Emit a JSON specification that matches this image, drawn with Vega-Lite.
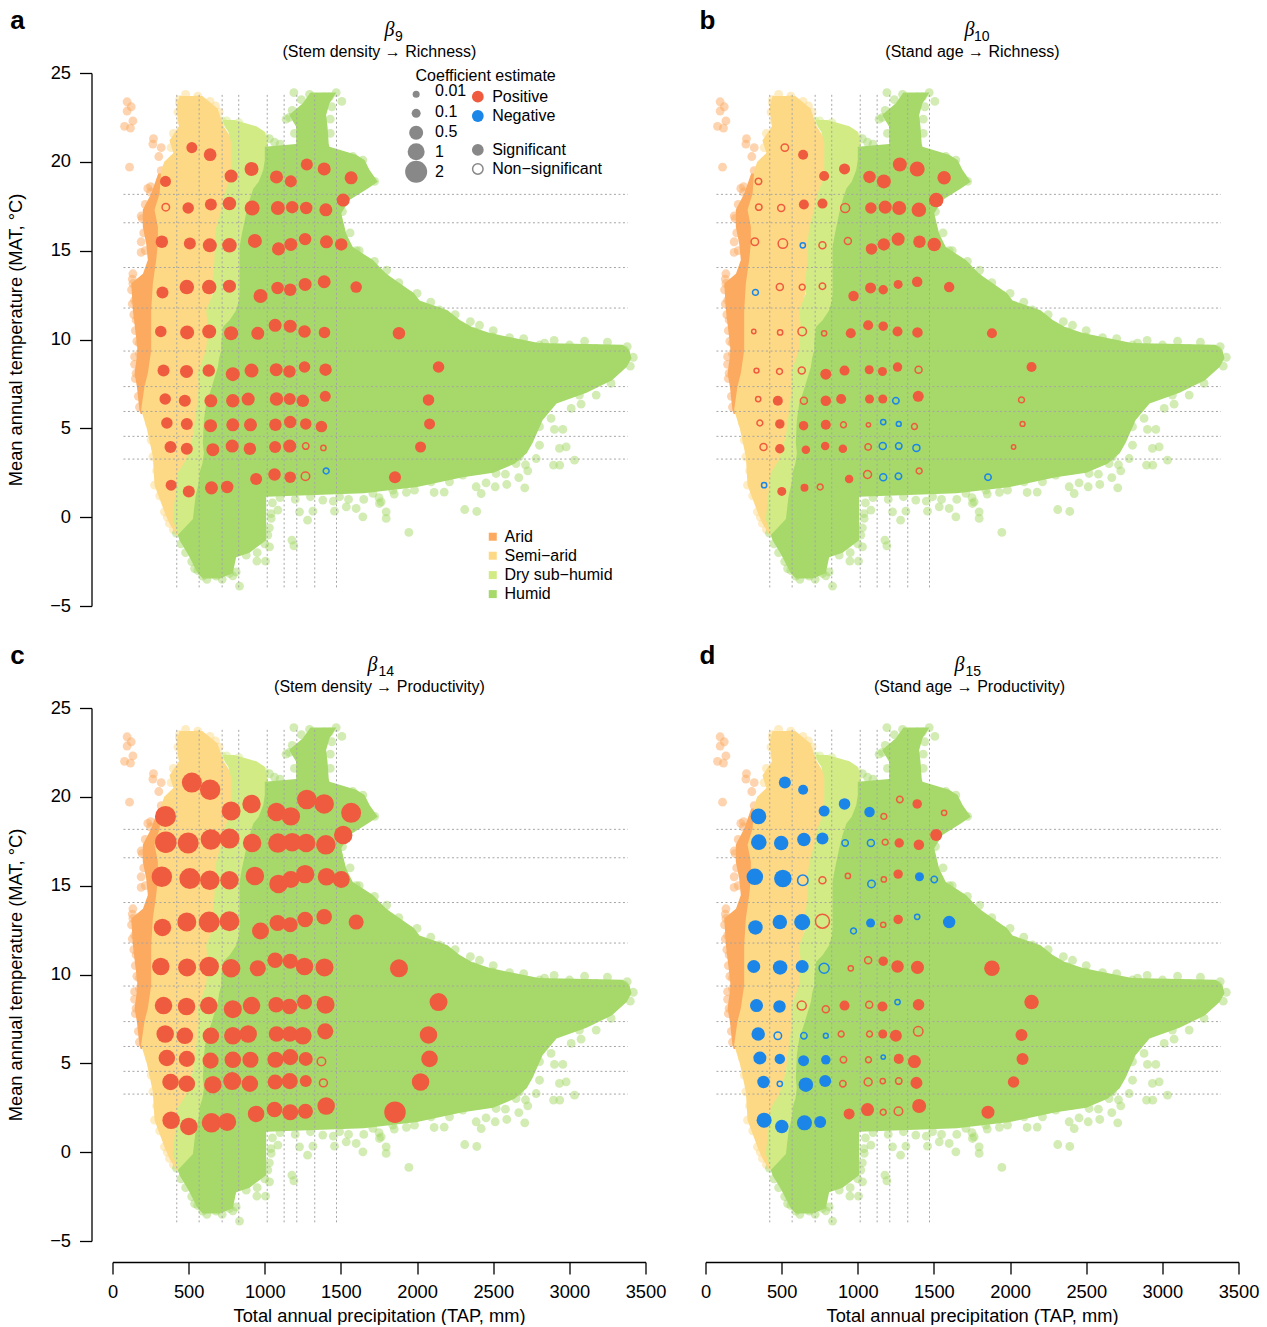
{"$schema":"https://vega.github.io/schema/vega-lite/v6.json","background":"white","padding":{"left":6.5,"top":8,"right":0,"bottom":0},"autosize":{"type":"pad"},
"config":{"view":{"stroke":null},"legend":{"disable":true},"font":"Liberation Sans","axis":{"grid":false,"domainColor":"#000","tickColor":"#000","domainWidth":1.3,"tickWidth":1.3,"tickSize":12,"offset":21,"labelFont":"Liberation Sans","titleFont":"Liberation Sans","labelFontSize":18.3,"titleFontSize":18.3,"titleFontWeight":"normal","labelColor":"#000","titleColor":"#000","labelPadding":9,"titlePadding":7,"labelOverlap":false,"labelFlush":false}},
"datasets":{
"coef":[
{"x":521,"y":20.8,"a":0.24,"b":0.03,"sb":0,"c":1.57,"d":-0.32},
{"x":641,"y":20.4,"a":0.38,"b":0.17,"c":1.67,"d":-0.17},
{"x":348,"y":18.9,"a":0.24,"b":0.008,"sb":0,"c":1.78,"d":-0.75},
{"x":779,"y":19.2,"a":0.41,"b":0.17,"c":1.37,"d":-0.24},
{"x":913,"y":19.6,"a":0.5,"b":0.24,"c":1.27,"d":-0.28},
{"x":1077,"y":19.15,"a":0.41,"b":0.36,"c":1.27,"d":-0.2},
{"x":1171,"y":18.9,"a":0.32,"b":0.5,"c":1.27,"d":0.006,"sd":0},
{"x":1276,"y":19.85,"a":0.32,"b":0.5,"c":1.47,"d":0.008,"sd":0},
{"x":1390,"y":19.6,"a":0.41,"b":0.66,"c":1.47,"d":0.13},
{"x":1567,"y":19.1,"a":0.41,"b":0.45,"c":1.57,"d":0.004,"sd":0},
{"x":350,"y":17.45,"a":0.03,"sa":0,"b":0.008,"sb":0,"c":1.89,"d":-0.75},
{"x":497,"y":17.4,"a":0.28,"b":0.01,"sb":0,"c":1.78,"d":-0.58},
{"x":646,"y":17.6,"a":0.32,"b":0.17,"c":1.67,"d":-0.45},
{"x":768,"y":17.65,"a":0.45,"b":0.17,"c":1.57,"d":-0.32},
{"x":917,"y":17.4,"a":0.66,"b":0.1,"sb":0,"c":1.27,"d":-0.008,"sd":0},
{"x":1086,"y":17.4,"a":0.5,"b":0.28,"c":1.47,"d":-0.01,"sd":0},
{"x":1180,"y":17.45,"a":0.36,"b":0.41,"c":1.27,"d":0.006,"sd":0},
{"x":1272,"y":17.4,"a":0.36,"b":0.5,"c":1.27,"d":0.13},
{"x":1401,"y":17.3,"a":0.41,"b":0.58,"c":1.47,"d":0.2},
{"x":1515,"y":17.85,"a":0.41,"b":0.58,"c":1.27,"d":0.32},
{"x":324,"y":15.5,"a":0.36,"b":0.03,"sb":0,"c":1.67,"d":-0.92},
{"x":508,"y":15.4,"a":0.32,"b":0.13,"sb":0,"c":1.78,"d":-1.09},
{"x":639,"y":15.3,"a":0.5,"b":-0.004,"sb":0,"c":1.47,"d":-0.2,"sd":0},
{"x":768,"y":15.3,"a":0.58,"b":0.01,"sb":0,"c":1.27,"d":0.01,"sd":0},
{"x":935,"y":15.55,"a":0.5,"b":0.01,"sb":0,"c":1.27,"d":0.004,"sd":0},
{"x":1090,"y":15.1,"a":0.41,"b":0.28,"c":1.27,"d":-0.03,"sd":0},
{"x":1171,"y":15.35,"a":0.41,"b":0.36,"c":1,"d":0.004,"sd":0},
{"x":1265,"y":15.65,"a":0.36,"b":0.41,"c":1.27,"d":0.13},
{"x":1405,"y":15.5,"a":0.41,"b":0.36,"c":1.09,"d":-0.1},
{"x":1502,"y":15.35,"a":0.36,"b":0.45,"c":1,"d":-0.008,"sd":0},
{"x":328,"y":12.65,"a":0.32,"b":-0.006,"sb":0,"c":1.09,"d":-0.58},
{"x":488,"y":12.95,"a":0.58,"b":0.01,"sb":0,"c":1.37,"d":-0.58},
{"x":635,"y":12.95,"a":0.58,"b":0.006,"sb":0,"c":1.78,"d":-0.84},
{"x":768,"y":13,"a":0.41,"b":0.008,"sb":0,"c":1.57,"d":0.5,"sd":0},
{"x":972,"y":12.45,"a":0.5,"b":0.2,"c":1,"d":-0.006,"sd":0},
{"x":1084,"y":12.9,"a":0.36,"b":0.24,"c":0.84,"d":-0.1},
{"x":1167,"y":12.8,"a":0.36,"b":0.13,"c":0.66,"d":0.004,"sd":0},
{"x":1265,"y":13.1,"a":0.41,"b":0.1,"c":0.75,"d":0.13},
{"x":1390,"y":13.25,"a":0.41,"b":0.2,"c":0.75,"d":-0.004,"sd":0},
{"x":1600,"y":12.95,"a":0.28,"b":0.2,"c":0.66,"d":-0.36},
{"x":317,"y":10.45,"a":0.28,"b":0.0015,"sb":0,"c":1.09,"d":-0.41},
{"x":490,"y":10.4,"a":0.5,"b":0.004,"sb":0,"c":1.18,"d":-0.58},
{"x":635,"y":10.45,"a":0.5,"b":0.075,"sb":0,"c":1.47,"d":-0.41},
{"x":779,"y":10.35,"a":0.5,"b":0.004,"sb":0,"c":1.27,"d":-0.165,"sd":0},
{"x":954,"y":10.35,"a":0.41,"b":0.17,"c":0.84,"d":0.004,"sd":0},
{"x":1068,"y":10.8,"a":0.41,"b":0.17,"c":0.75,"d":0.01,"sd":0},
{"x":1167,"y":10.75,"a":0.41,"b":0.13,"c":0.66,"d":0.13},
{"x":1261,"y":10.45,"a":0.36,"b":0.17,"c":1.09,"d":0.36},
{"x":1392,"y":10.4,"a":0.28,"b":0.2,"c":1.18,"d":0.41},
{"x":1881,"y":10.35,"a":0.36,"b":0.17,"c":1.18,"d":0.75},
{"x":335,"y":8.25,"a":0.32,"b":0.003,"sb":0,"c":1.09,"d":-0.41},
{"x":486,"y":8.2,"a":0.41,"b":0.006,"sb":0,"c":1.09,"d":-0.36},
{"x":632,"y":8.25,"a":0.36,"b":0.01,"sb":0,"c":1.09,"d":0.1,"sd":0},
{"x":790,"y":8.05,"a":0.5,"b":0.24,"c":1.18,"d":0.01,"sd":0},
{"x":913,"y":8.25,"a":0.5,"b":0.17,"c":1.09,"d":0.17},
{"x":1075,"y":8.3,"a":0.41,"b":0.1,"c":0.75,"d":0.01,"sd":0},
{"x":1162,"y":8.2,"a":0.36,"b":0.1,"c":0.75,"d":0.17},
{"x":1261,"y":8.45,"a":0.28,"b":0.13,"c":0.66,"d":-0.004,"sd":0},
{"x":1399,"y":8.3,"a":0.36,"b":0.01,"sb":0,"c":1.18,"d":0.28},
{"x":2141,"y":8.45,"a":0.28,"b":0.17,"c":1.18,"d":0.58},
{"x":346,"y":6.65,"a":0.28,"b":0.004,"sb":0,"c":1.09,"d":-0.45},
{"x":475,"y":6.55,"a":0.32,"b":0.17,"c":0.92,"d":-0.03,"sd":0},
{"x":646,"y":6.55,"a":0.41,"b":0.01,"sb":0,"c":0.92,"d":-0.008,"sd":0},
{"x":790,"y":6.55,"a":0.45,"b":0.2,"c":1.09,"d":-0.003,"sd":0},
{"x":891,"y":6.65,"a":0.41,"b":0.17,"c":1.09,"d":0.006,"sd":0},
{"x":1077,"y":6.65,"a":0.45,"b":0.1,"c":0.75,"d":0.006,"sd":0},
{"x":1164,"y":6.65,"a":0.32,"b":0.1,"c":0.75,"d":0.1},
{"x":1250,"y":6.55,"a":0.36,"b":-0.008,"sb":0,"c":1.09,"d":0.32},
{"x":1397,"y":6.8,"a":0.24,"b":0.24,"c":0.84,"d":0.13,"sd":0},
{"x":2075,"y":6.6,"a":0.28,"b":0.006,"sb":0,"c":1.09,"d":0.32},
{"x":357,"y":5.3,"a":0.28,"b":0.006,"sb":0,"c":0.92,"d":-0.41},
{"x":488,"y":5.25,"a":0.32,"b":0.13,"c":0.84,"d":-0.2},
{"x":644,"y":5.15,"a":0.41,"b":0.13,"c":0.84,"d":-0.24},
{"x":790,"y":5.2,"a":0.41,"b":0.17,"c":0.92,"d":-0.13},
{"x":906,"y":5.2,"a":0.41,"b":0.006,"sb":0,"c":0.84,"d":0.008,"sd":0},
{"x":1070,"y":5.2,"a":0.36,"b":0.0015,"sb":0,"c":0.84,"d":0.006,"sd":0},
{"x":1167,"y":5.35,"a":0.36,"b":-0.004,"sb":0,"c":0.84,"d":-0.0015,"sd":0},
{"x":1269,"y":5.25,"a":0.28,"b":-0.003,"sb":0,"c":0.5,"d":0.17},
{"x":1372,"y":5.1,"a":0.28,"b":0.006,"sb":0,"c":0.075,"sc":0,"d":0.41},
{"x":2082,"y":5.25,"a":0.24,"b":0.003,"sb":0,"c":0.92,"d":0.32},
{"x":381,"y":3.95,"a":0.32,"b":0.01,"sb":0,"c":0.92,"d":-0.36},
{"x":488,"y":3.85,"a":0.32,"b":0.13,"c":0.92,"d":-0.004,"sd":0},
{"x":659,"y":3.8,"a":0.41,"b":0.075,"c":1.09,"d":-0.58},
{"x":786,"y":4,"a":0.41,"b":0.075,"c":1.18,"d":-0.32},
{"x":902,"y":3.85,"a":0.36,"b":0.075,"c":0.92,"d":0.008,"sd":0},
{"x":1068,"y":3.95,"a":0.32,"b":0.008,"sb":0,"c":0.66,"d":0.05,"sd":0},
{"x":1164,"y":4,"a":0.41,"b":-0.01,"sb":0,"c":0.84,"d":0.004,"sd":0},
{"x":1269,"y":4,"a":0.008,"sa":0,"b":-0.008,"sb":0,"c":0.32,"d":0.008,"sd":0},
{"x":1385,"y":3.9,"a":0.004,"sa":0,"b":-0.01,"sb":0,"c":0.05,"sc":0,"d":0.32},
{"x":2023,"y":3.95,"a":0.24,"b":0.0015,"sb":0,"c":1.09,"d":0.28},
{"x":385,"y":1.8,"a":0.24,"b":-0.004,"sb":0,"c":1.09,"d":-0.66},
{"x":501,"y":1.45,"a":0.32,"b":0.1,"c":1.09,"d":-0.45},
{"x":650,"y":1.65,"a":0.41,"b":0.05,"c":1.47,"d":-0.66},
{"x":753,"y":1.7,"a":0.36,"b":0.006,"sb":0,"c":1.18,"d":-0.32},
{"x":943,"y":2.15,"a":0.32,"b":0.075,"c":0.92,"d":0.24},
{"x":1064,"y":2.4,"a":0.36,"b":0.05,"sb":0,"c":0.75,"d":0.41},
{"x":1167,"y":2.25,"a":0.28,"b":-0.01,"sb":0,"c":0.84,"d":0.006,"sd":0},
{"x":1267,"y":2.3,"a":0.075,"sa":0,"b":-0.008,"sb":0,"c":0.66,"d":0.075,"sd":0},
{"x":1403,"y":2.6,"a":-0.006,"sa":0,"b":0.006,"sb":0,"c":1.09,"d":0.5},
{"x":1855,"y":2.25,"a":0.32,"b":-0.008,"sb":0,"c":1.89,"d":0.41}
],
"zones":[
{"zone":"Arid","y":5.8,"x":185,"x2":195},{"zone":"Arid","y":6.03,"x":177,"x2":200},{"zone":"Arid","y":7.35,"x":160,"x2":220},{"zone":"Arid","y":8.1,"x":145,"x2":240},{"zone":"Arid","y":9.4,"x":165,"x2":260},{"zone":"Arid","y":11.65,"x":134,"x2":260},{"zone":"Arid","y":13.15,"x":123,"x2":270},{"zone":"Arid","y":13.7,"x":200,"x2":290},{"zone":"Arid","y":14.47,"x":232,"x2":295},{"zone":"Arid","y":15.4,"x":221,"x2":300},{"zone":"Arid","y":16.35,"x":199,"x2":300},{"zone":"Arid","y":17.3,"x":199,"x2":290},{"zone":"Arid","y":18.2,"x":254,"x2":320},{"zone":"Arid","y":19.35,"x":300,"x2":330},
{"zone":"Semi−arid","y":-1,"x":420,"x2":430},{"zone":"Semi−arid","y":-0.35,"x":374,"x2":420},{"zone":"Semi−arid","y":0.3,"x":341,"x2":420},{"zone":"Semi−arid","y":1.8,"x":276,"x2":440},{"zone":"Semi−arid","y":3.4,"x":265,"x2":500},{"zone":"Semi−arid","y":5,"x":225,"x2":540},{"zone":"Semi−arid","y":6.03,"x":188,"x2":560},{"zone":"Semi−arid","y":7.35,"x":210,"x2":580},{"zone":"Semi−arid","y":8.1,"x":232,"x2":570},{"zone":"Semi−arid","y":9.4,"x":254,"x2":630},{"zone":"Semi−arid","y":11.65,"x":254,"x2":630},{"zone":"Semi−arid","y":13.15,"x":265,"x2":670},{"zone":"Semi−arid","y":14.47,"x":287,"x2":680},{"zone":"Semi−arid","y":15.4,"x":298,"x2":680},{"zone":"Semi−arid","y":16.35,"x":298,"x2":690},{"zone":"Semi−arid","y":17.3,"x":276,"x2":720},{"zone":"Semi−arid","y":18.2,"x":309,"x2":750},{"zone":"Semi−arid","y":19.54,"x":320,"x2":790},{"zone":"Semi−arid","y":20,"x":340,"x2":790},{"zone":"Semi−arid","y":20.5,"x":400,"x2":790},{"zone":"Semi−arid","y":21.2,"x":374,"x2":790},{"zone":"Semi−arid","y":22,"x":436,"x2":730},{"zone":"Semi−arid","y":23,"x":420,"x2":690},{"zone":"Semi−arid","y":23.7,"x":440,"x2":590},
{"zone":"Dry sub−humid","y":-1,"x":429,"x2":440},{"zone":"Dry sub−humid","y":-0.1,"x":396,"x2":540},{"zone":"Dry sub−humid","y":1.4,"x":414,"x2":570},{"zone":"Dry sub−humid","y":2.5,"x":429,"x2":580},{"zone":"Dry sub−humid","y":3.25,"x":484,"x2":620},{"zone":"Dry sub−humid","y":4.55,"x":528,"x2":610},{"zone":"Dry sub−humid","y":6.05,"x":550,"x2":620},{"zone":"Dry sub−humid","y":7.35,"x":567,"x2":670},{"zone":"Dry sub−humid","y":8.1,"x":560,"x2":700},{"zone":"Dry sub−humid","y":9.4,"x":615,"x2":730},{"zone":"Dry sub−humid","y":10.7,"x":626,"x2":740},{"zone":"Dry sub−humid","y":11.65,"x":615,"x2":830},{"zone":"Dry sub−humid","y":12.6,"x":659,"x2":850},{"zone":"Dry sub−humid","y":13.53,"x":659,"x2":850},{"zone":"Dry sub−humid","y":14.47,"x":670,"x2":850},{"zone":"Dry sub−humid","y":15.4,"x":670,"x2":850},{"zone":"Dry sub−humid","y":16.35,"x":681,"x2":870},{"zone":"Dry sub−humid","y":17.3,"x":714,"x2":900},{"zone":"Dry sub−humid","y":18.2,"x":735,"x2":950},{"zone":"Dry sub−humid","y":19.16,"x":780,"x2":1000},{"zone":"Dry sub−humid","y":21.04,"x":780,"x2":1020},{"zone":"Dry sub−humid","y":21.7,"x":760,"x2":1000},{"zone":"Dry sub−humid","y":22,"x":735,"x2":945},{"zone":"Dry sub−humid","y":22.35,"x":725,"x2":800},
{"zone":"Humid","y":-3.45,"x":593,"x2":703},{"zone":"Humid","y":-3.15,"x":560,"x2":790},{"zone":"Humid","y":-2.25,"x":506,"x2":812},{"zone":"Humid","y":-2,"x":490,"x2":900},{"zone":"Humid","y":-1.3,"x":440,"x2":1009},{"zone":"Humid","y":-1,"x":429,"x2":1009},{"zone":"Humid","y":-0.1,"x":528,"x2":1009},{"zone":"Humid","y":1.15,"x":545,"x2":1009},{"zone":"Humid","y":1.35,"x":550,"x2":1650},{"zone":"Humid","y":1.7,"x":560,"x2":2000},{"zone":"Humid","y":2.25,"x":571,"x2":2300},{"zone":"Humid","y":2.5,"x":571,"x2":2500},{"zone":"Humid","y":3,"x":590,"x2":2640},{"zone":"Humid","y":3.6,"x":600,"x2":2720},{"zone":"Humid","y":4.2,"x":593,"x2":2760},{"zone":"Humid","y":5.45,"x":600,"x2":2824},{"zone":"Humid","y":6.4,"x":615,"x2":2916},{"zone":"Humid","y":7,"x":640,"x2":3113},{"zone":"Humid","y":7.7,"x":665,"x2":3280},{"zone":"Humid","y":8.45,"x":692,"x2":3376},{"zone":"Humid","y":8.95,"x":700,"x2":3408},{"zone":"Humid","y":9.4,"x":714,"x2":3395},{"zone":"Humid","y":9.7,"x":714,"x2":3350},{"zone":"Humid","y":9.8,"x":714,"x2":2800},{"zone":"Humid","y":10.36,"x":720,"x2":2478},{"zone":"Humid","y":10.7,"x":725,"x2":2360},{"zone":"Humid","y":11.1,"x":770,"x2":2280},{"zone":"Humid","y":11.65,"x":812,"x2":2200},{"zone":"Humid","y":12.2,"x":830,"x2":2016},{"zone":"Humid","y":12.6,"x":834,"x2":1980},{"zone":"Humid","y":13.7,"x":834,"x2":1797},{"zone":"Humid","y":14.47,"x":834,"x2":1710},{"zone":"Humid","y":15.2,"x":834,"x2":1578},{"zone":"Humid","y":15.97,"x":850,"x2":1534},{"zone":"Humid","y":17.1,"x":878,"x2":1502},{"zone":"Humid","y":17.85,"x":900,"x2":1556},{"zone":"Humid","y":18.5,"x":925,"x2":1677},{"zone":"Humid","y":18.88,"x":960,"x2":1742},{"zone":"Humid","y":19.54,"x":990,"x2":1688},{"zone":"Humid","y":20.1,"x":1000,"x2":1655},{"zone":"Humid","y":20.4,"x":1000,"x2":1600},{"zone":"Humid","y":20.85,"x":1000,"x2":1425},{"zone":"Humid","y":21,"x":1206,"x2":1420},{"zone":"Humid","y":21.98,"x":1206,"x2":1412},{"zone":"Humid","y":22.63,"x":1160,"x2":1403},{"zone":"Humid","y":23.3,"x":1250,"x2":1425},{"zone":"Humid","y":23.9,"x":1300,"x2":1470}
],
"edge":[
{"zone":"Arid","x":96,"y":23.38},{"zone":"Arid","x":123,"y":23.1},{"zone":"Arid","x":96,"y":22.86},{"zone":"Arid","x":134,"y":22.3},{"zone":"Arid","x":79,"y":22},{"zone":"Arid","x":118,"y":21.9},{"zone":"Arid","x":112,"y":19.7},{"zone":"Arid","x":269,"y":21.3},{"zone":"Arid","x":265,"y":21},{"zone":"Arid","x":320,"y":20.8},{"zone":"Arid","x":304,"y":20.3},{"zone":"Arid","x":232,"y":18.5},{"zone":"Arid","x":188,"y":16.95},{"zone":"Arid","x":134,"y":13.7},{"zone":"Arid","x":320,"y":19.5},{"zone":"Arid","x":250,"y":18.6},{"zone":"Arid","x":287,"y":18},{"zone":"Arid","x":188,"y":15.5},{"zone":"Arid","x":188,"y":14.9},{"zone":"Arid","x":155,"y":8.1},{"zone":"Arid","x":145,"y":9.03},{"zone":"Arid","x":177,"y":9.2},{"zone":"Arid","x":210,"y":7.15},{"zone":"Arid","x":188,"y":9.4},{"zone":"Arid","x":177,"y":6.2},{"zone":"Arid","x":134,"y":13.15},{"zone":"Arid","x":145,"y":12.2},{"zone":"Arid","x":155,"y":11.1},{"zone":"Arid","x":177,"y":9.8},{"zone":"Arid","x":130,"y":13.4},{"zone":"Arid","x":125,"y":12.8},{"zone":"Arid","x":130,"y":12},{"zone":"Arid","x":140,"y":11.4},{"zone":"Arid","x":150,"y":10.5},{"zone":"Arid","x":160,"y":9.9},{"zone":"Arid","x":145,"y":8.6},{"zone":"Arid","x":150,"y":7.8},{"zone":"Arid","x":170,"y":6.8},{"zone":"Arid","x":215,"y":15},{"zone":"Arid","x":205,"y":16},{"zone":"Arid","x":195,"y":16.8},{"zone":"Arid","x":215,"y":17.6},{"zone":"Arid","x":250,"y":18.3},
{"zone":"Semi−arid","x":676,"y":23.15},{"zone":"Semi−arid","x":440,"y":23.3},{"zone":"Semi−arid","x":550,"y":23.5},{"zone":"Semi−arid","x":506,"y":23.4},{"zone":"Semi−arid","x":473,"y":21.4},{"zone":"Semi−arid","x":385,"y":20.8},{"zone":"Semi−arid","x":506,"y":20},{"zone":"Semi−arid","x":276,"y":1.8},{"zone":"Semi−arid","x":265,"y":3.4},{"zone":"Semi−arid","x":254,"y":4.34},{"zone":"Semi−arid","x":243,"y":5.28},{"zone":"Semi−arid","x":341,"y":0.3},{"zone":"Semi−arid","x":374,"y":-0.35},{"zone":"Semi−arid","x":400,"y":21.6},{"zone":"Semi−arid","x":450,"y":22.3},{"zone":"Semi−arid","x":430,"y":22.8},{"zone":"Semi−arid","x":440,"y":23.5},{"zone":"Semi−arid","x":480,"y":23.8},{"zone":"Semi−arid","x":560,"y":23.7},{"zone":"Semi−arid","x":640,"y":23.4},{"zone":"Semi−arid","x":700,"y":22.8},{"zone":"Semi−arid","x":240,"y":6},{"zone":"Semi−arid","x":200,"y":6.5},{"zone":"Semi−arid","x":290,"y":2.6},{"zone":"Semi−arid","x":310,"y":1.2},{"zone":"Semi−arid","x":360,"y":0},{"zone":"Semi−arid","x":400,"y":-0.7},
{"zone":"Dry sub−humid","x":790,"y":22.07},{"zone":"Dry sub−humid","x":878,"y":21.9},{"zone":"Dry sub−humid","x":933,"y":21.6},{"zone":"Dry sub−humid","x":750,"y":22.3},{"zone":"Dry sub−humid","x":830,"y":22.2},{"zone":"Dry sub−humid","x":1000,"y":21.4},{"zone":"Dry sub−humid","x":720,"y":22.3},
{"zone":"Humid","x":1191,"y":23.9},{"zone":"Humid","x":1294,"y":23.8},{"zone":"Humid","x":1469,"y":23.9},{"zone":"Humid","x":1506,"y":23.4},{"zone":"Humid","x":1392,"y":23.66},{"zone":"Humid","x":1425,"y":23.66},{"zone":"Humid","x":1162,"y":22.5},{"zone":"Humid","x":1064,"y":21.1},{"zone":"Humid","x":1030,"y":21.3},{"zone":"Humid","x":1100,"y":21},{"zone":"Humid","x":1578,"y":20.3},{"zone":"Humid","x":1644,"y":20.1},{"zone":"Humid","x":1721,"y":18.9},{"zone":"Humid","x":1600,"y":15},{"zone":"Humid","x":1786,"y":13.5},{"zone":"Humid","x":1950,"y":12.5},{"zone":"Humid","x":2147,"y":11.66},{"zone":"Humid","x":2410,"y":10.8},{"zone":"Humid","x":2607,"y":10.1},{"zone":"Humid","x":2837,"y":9.8},{"zone":"Humid","x":1240,"y":23.5},{"zone":"Humid","x":1180,"y":22.9},{"zone":"Humid","x":1140,"y":22.4},{"zone":"Humid","x":1440,"y":23.1},{"zone":"Humid","x":1430,"y":22.4},{"zone":"Humid","x":1430,"y":21.6},{"zone":"Humid","x":1195,"y":21.6},{"zone":"Humid","x":1510,"y":17.2},{"zone":"Humid","x":1560,"y":16},{"zone":"Humid","x":1620,"y":15},{"zone":"Humid","x":1720,"y":14.4},{"zone":"Humid","x":1800,"y":13.9},{"zone":"Humid","x":1880,"y":13.2},{"zone":"Humid","x":2000,"y":12.6},{"zone":"Humid","x":2090,"y":12.1},{"zone":"Humid","x":2250,"y":11.4},{"zone":"Humid","x":2350,"y":11},{"zone":"Humid","x":2500,"y":10.5},{"zone":"Humid","x":2700,"y":10.05},{"zone":"Humid","x":2900,"y":9.95},{"zone":"Humid","x":3100,"y":9.9},{"zone":"Humid","x":3250,"y":9.85},{"zone":"Humid","x":3380,"y":9.6},{"zone":"Humid","x":3420,"y":9},{"zone":"Humid","x":3400,"y":8.5},{"zone":"Humid","x":1100,"y":1.1},{"zone":"Humid","x":1200,"y":1},{"zone":"Humid","x":1300,"y":1.15},{"zone":"Humid","x":1450,"y":0.9},{"zone":"Humid","x":1550,"y":1},{"zone":"Humid","x":1650,"y":1},{"zone":"Humid","x":1750,"y":1.1},{"zone":"Humid","x":1850,"y":1.3},{"zone":"Humid","x":1930,"y":1.4},{"zone":"Humid","x":1050,"y":0.8},{"zone":"Humid","x":1040,"y":0.2},{"zone":"Humid","x":1030,"y":-0.6},{"zone":"Humid","x":1000,"y":-1.5},{"zone":"Humid","x":950,"y":-2},{"zone":"Humid","x":420,"y":-0.9},{"zone":"Humid","x":450,"y":-1.5},{"zone":"Humid","x":480,"y":-2},{"zone":"Humid","x":520,"y":-2.5},{"zone":"Humid","x":560,"y":-3},{"zone":"Humid","x":620,"y":-3.5},{"zone":"Humid","x":720,"y":-3.5},{"zone":"Humid","x":790,"y":-3.3},
{"zone":"Humid","x":1946,"y":-0.86},{"zone":"Humid","x":2313,"y":0.43},{"zone":"Humid","x":2392,"y":0.32},{"zone":"Humid","x":1797,"y":-0.07},{"zone":"Humid","x":1797,"y":0.3},{"zone":"Humid","x":1764,"y":0.86},{"zone":"Humid","x":2178,"y":1.41},{"zone":"Humid","x":2112,"y":1.39},{"zone":"Humid","x":1983,"y":1.52},{"zone":"Humid","x":1841,"y":1.52},{"zone":"Humid","x":1928,"y":1.9},{"zone":"Humid","x":2092,"y":1.99},{"zone":"Humid","x":2213,"y":1.99},{"zone":"Humid","x":2421,"y":1.33},{"zone":"Humid","x":2388,"y":1.71},{"zone":"Humid","x":2453,"y":1.93},{"zone":"Humid","x":2513,"y":1.71},{"zone":"Humid","x":2589,"y":1.84},{"zone":"Humid","x":2707,"y":1.65},{"zone":"Humid","x":2580,"y":2.42},{"zone":"Humid","x":2668,"y":2.23},{"zone":"Humid","x":2727,"y":2.61},{"zone":"Humid","x":2712,"y":2.95},{"zone":"Humid","x":2650,"y":3.02},{"zone":"Humid","x":2896,"y":2.93},{"zone":"Humid","x":2937,"y":2.93},{"zone":"Humid","x":3034,"y":3.21},{"zone":"Humid","x":2782,"y":3.3},{"zone":"Humid","x":2804,"y":4.05},{"zone":"Humid","x":2979,"y":3.96},{"zone":"Humid","x":2935,"y":3.87},{"zone":"Humid","x":2902,"y":4.94},{"zone":"Humid","x":2957,"y":4.94},{"zone":"Humid","x":2880,"y":5.56},{"zone":"Humid","x":3012,"y":6.12},{"zone":"Humid","x":3077,"y":6.36},{"zone":"Humid","x":3176,"y":6.87},{"zone":"Humid","x":3274,"y":7.53},{"zone":"Humid","x":3066,"y":6.87},{"zone":"Humid","x":2935,"y":6.78},{"zone":"Humid","x":2804,"y":5.09},{"zone":"Humid","x":2300,"y":2.37},{"zone":"Humid","x":2016,"y":2.27},{"zone":"Humid","x":2081,"y":2.46},{"zone":"Humid","x":2191,"y":2.65},{"zone":"Humid","x":2410,"y":2.65},{"zone":"Humid","x":2519,"y":2.46},{"zone":"Humid","x":2497,"y":3.02},{"zone":"Humid","x":2672,"y":3.4},{"zone":"Humid","x":3362,"y":9.4},{"zone":"Humid","x":3176,"y":9.5},{"zone":"Humid","x":3001,"y":9.69},{"zone":"Humid","x":2804,"y":9.69},{"zone":"Humid","x":2585,"y":9.69},{"zone":"Humid","x":2497,"y":10.15},{"zone":"Humid","x":2377,"y":10.44},
{"zone":"Humid","x":834,"y":-3.88},{"zone":"Humid","x":1178,"y":-1.29},{"zone":"Humid","x":1191,"y":-1.61},{"zone":"Humid","x":1281,"y":-0.17},{"zone":"Humid","x":1316,"y":0.34},{"zone":"Humid","x":1458,"y":0.34},{"zone":"Humid","x":1644,"y":0.02},{"zone":"Humid","x":1753,"y":0.77},{"zone":"Humid","x":1600,"y":0.49},{"zone":"Humid","x":1535,"y":0.58},{"zone":"Humid","x":1381,"y":0.96},{"zone":"Humid","x":1228,"y":0.3},{"zone":"Humid","x":1086,"y":0.4},{"zone":"Humid","x":1042,"y":-0.07},{"zone":"Humid","x":1031,"y":-1.67},{"zone":"Humid","x":1005,"y":-2.47},{"zone":"Humid","x":948,"y":-2.47},{"zone":"Humid","x":1020,"y":-1.01},{"zone":"Humid","x":878,"y":-2.14},{"zone":"Humid","x":812,"y":-3.08},{"zone":"Humid","x":768,"y":-3.17},{"zone":"Humid","x":681,"y":-3.32},{"zone":"Humid","x":593,"y":-3.32},{"zone":"Humid","x":539,"y":-2.89},{"zone":"Humid","x":495,"y":-1.1},{"zone":"Humid","x":1491,"y":1.15},{"zone":"Humid","x":1710,"y":1.34}
],
"hgrid":[{"x":72,"x2":3385,"y":18.17},{"x":72,"x2":3385,"y":16.57},{"x":72,"x2":3385,"y":14.05},{"x":72,"x2":3385,"y":11.77},{"x":72,"x2":3385,"y":9.35},{"x":72,"x2":3385,"y":7.35},{"x":72,"x2":3385,"y":5.95},{"x":72,"x2":3385,"y":4.55},{"x":72,"x2":3385,"y":3.27}],
"vgrid":[{"x":422,"y":-3.95,"y2":23.9},{"x":569,"y":-3.95,"y2":23.9},{"x":720,"y":-3.95,"y2":23.9},{"x":829,"y":-3.95,"y2":23.9},{"x":1016,"y":-3.95,"y2":23.9},{"x":1127,"y":-3.95,"y2":23.9},{"x":1210,"y":-3.95,"y2":23.9},{"x":1328,"y":-3.95,"y2":23.9},{"x":1471,"y":-3.95,"y2":23.9}],
"legendText":[{"x":1990,"y":24.85,"t":"Coefficient estimate"},{"x":2118,"y":24,"t":"0.01"},{"x":2118,"y":22.8,"t":"0.1"},{"x":2118,"y":21.7,"t":"0.5"},{"x":2118,"y":20.57,"t":"1"},{"x":2118,"y":19.44,"t":"2"},{"x":2493,"y":23.67,"t":"Positive"},{"x":2493,"y":22.58,"t":"Negative"},{"x":2493,"y":20.67,"t":"Significant"},{"x":2493,"y":19.6,"t":"Non−significant"},{"x":2574,"y":-1.1,"t":"Arid"},{"x":2574,"y":-2.17,"t":"Semi−arid"},{"x":2574,"y":-3.26,"t":"Dry sub−humid"},{"x":2574,"y":-4.33,"t":"Humid"}],
"legendSize":[{"x":1994,"y":23.8,"est":0.01},{"x":1994,"y":22.73,"est":0.1},{"x":1994,"y":21.64,"est":0.5},{"x":1994,"y":20.57,"est":1},{"x":1994,"y":19.44,"est":2},{"x":2399,"y":20.67,"est":0.3}],
"legendSign":[{"x":2399,"y":23.67,"est":0.3},{"x":2399,"y":22.58,"est":-0.3}],
"legendZone":[{"x":2497,"y":-1.1,"zone":"Arid"},{"x":2497,"y":-2.17,"zone":"Semi−arid"},{"x":2497,"y":-3.26,"zone":"Dry sub−humid"},{"x":2497,"y":-4.33,"zone":"Humid"}]
},
"columns":2,"bounds":"flush","spacing":{"row":102,"column":60},
"concat":[
{"width":533,"height":533,
"encoding":{"x":{"field":"x","type":"quantitative","scale":{"domain":[0,3500],"nice":false,"zero":false},"axis":null},"y":{"field":"y","type":"quantitative","scale":{"domain":[-5,25],"nice":false,"zero":false},"axis":{"title":"Mean annual temperature (MAT, °C)","values":[-5,0,5,10,15,20,25],"titlePadding":24}}},
"layer":[
{"data":{"name":"edge"},"mark":{"type":"circle","size":78,"opacity":0.5},"encoding":{"fill":{"field":"zone","type":"nominal","scale":{"domain":["Arid","Semi−arid","Dry sub−humid","Humid"],"range":["#FBAA5F","#FDD985","#D3EB85","#A6D96A"]}}}},
{"data":{"name":"zones"},"mark":{"type":"area","orient":"horizontal"},"encoding":{"x2":{"field":"x2"},"fill":{"field":"zone","type":"nominal"}}},
{"data":{"name":"hgrid"},"mark":{"type":"rule","color":"#a5a5a5","strokeDash":[2,2.5],"strokeWidth":1},"encoding":{"x2":{"field":"x2"}}},
{"data":{"name":"vgrid"},"mark":{"type":"rule","color":"#a5a5a5","strokeDash":[2,2.5],"strokeWidth":1},"encoding":{"y2":{"field":"y2"}}},
{"data":{"name":"coef"},"transform":[{"filter":"datum.sa!==0"}],"mark":{"type":"point","filled":true,"shape":"circle","opacity":1},"encoding":{"size":{"field":"a","type":"quantitative","scale":{"domain":[-3,-2,-1,-0.5,-0.1,-0.01,0,0.01,0.1,0.5,1,2,3],"range":[676,484,289,196,81,49,13,49,81,196,289,484,676]}},"color":{"field":"a","type":"quantitative","scale":{"type":"threshold","domain":[0],"range":["#1B86E8","#EF5B3E"]}}}},
{"data":{"name":"coef"},"transform":[{"filter":"datum.sa===0"}],"mark":{"type":"point","filled":false,"shape":"circle","opacity":1,"strokeWidth":1.5},"encoding":{"size":{"field":"a","type":"quantitative","scale":{"domain":[-3,-2,-1,-0.5,-0.1,-0.01,0,0.01,0.1,0.5,1,2,3],"range":[676,484,289,196,81,49,13,49,81,196,289,484,676]}},"color":{"field":"a","type":"quantitative","scale":{"type":"threshold","domain":[0],"range":["#1B86E8","#EF5B3E"]}}}},
{"data":{"name":"legendSize"},"mark":{"type":"point","filled":true,"shape":"circle","opacity":1,"color":"#888"},"encoding":{"size":{"field":"est","type":"quantitative","scale":{"domain":[-3,-2,-1,-0.5,-0.1,-0.01,0,0.01,0.1,0.5,1,2,3],"range":[676,484,289,196,81,49,13,49,81,196,289,484,676]}}}},
{"data":{"name":"legendSign"},"mark":{"type":"point","filled":true,"shape":"circle","opacity":1},"encoding":{"size":{"field":"est","type":"quantitative","scale":{"domain":[-3,-2,-1,-0.5,-0.1,-0.01,0,0.01,0.1,0.5,1,2,3],"range":[676,484,289,196,81,49,13,49,81,196,289,484,676]}},"color":{"field":"est","type":"quantitative","scale":{"type":"threshold","domain":[0],"range":["#1B86E8","#EF5B3E"]}}}},
{"data":{"values":[{"x":2399,"y":19.6,"est":0.2}]},"mark":{"type":"point","filled":false,"shape":"circle","opacity":1,"color":"#888","strokeWidth":1.5},"encoding":{"size":{"field":"est","type":"quantitative","scale":{"domain":[-3,-2,-1,-0.5,-0.1,-0.01,0,0.01,0.1,0.5,1,2,3],"range":[676,484,289,196,81,49,13,49,81,196,289,484,676]}}}},
{"data":{"name":"legendZone"},"mark":{"type":"square","size":64,"opacity":1},"encoding":{"fill":{"field":"zone","type":"nominal"}}},
{"data":{"name":"legendText"},"mark":{"type":"text","align":"left","baseline":"middle","fontSize":16,"font":"Liberation Sans","color":"#000"},"encoding":{"text":{"field":"t"}}},
{"data":{"values":[{"x":1753,"y":26.2,"t":"(Stem density → Richness)"}]},"mark":{"type":"text","align":"center","baseline":"middle","fontSize":16,"font":"Liberation Sans","color":"#000"},"encoding":{"text":{"field":"t"}}},
{"data":{"values":[{"x":1819,"y":27.42,"t":"β"}]},"mark":{"type":"text","align":"center","baseline":"middle","fontSize":20,"font":"Liberation Serif","fontStyle":"italic","color":"#000"},"encoding":{"text":{"field":"t"}}},
{"data":{"values":[{"x":1855,"y":27.05,"t":"9"}]},"mark":{"type":"text","align":"left","baseline":"middle","fontSize":14,"font":"Liberation Sans","color":"#000"},"encoding":{"text":{"field":"t"}}},
{"data":{"values":[{"x":-624,"y":27.92,"t":"a"}]},"mark":{"type":"text","align":"center","baseline":"middle","fontSize":26,"fontWeight":"bold","font":"Liberation Sans","color":"#000"},"encoding":{"text":{"field":"t"}}}
]},
{"width":533,"height":533,
"encoding":{"x":{"field":"x","type":"quantitative","scale":{"domain":[0,3500],"nice":false,"zero":false},"axis":null},"y":{"field":"y","type":"quantitative","scale":{"domain":[-5,25],"nice":false,"zero":false},"axis":null}},
"layer":[
{"data":{"name":"edge"},"mark":{"type":"circle","size":78,"opacity":0.5},"encoding":{"fill":{"field":"zone","type":"nominal","scale":{"domain":["Arid","Semi−arid","Dry sub−humid","Humid"],"range":["#FBAA5F","#FDD985","#D3EB85","#A6D96A"]}}}},
{"data":{"name":"zones"},"mark":{"type":"area","orient":"horizontal"},"encoding":{"x2":{"field":"x2"},"fill":{"field":"zone","type":"nominal"}}},
{"data":{"name":"hgrid"},"mark":{"type":"rule","color":"#a5a5a5","strokeDash":[2,2.5],"strokeWidth":1},"encoding":{"x2":{"field":"x2"}}},
{"data":{"name":"vgrid"},"mark":{"type":"rule","color":"#a5a5a5","strokeDash":[2,2.5],"strokeWidth":1},"encoding":{"y2":{"field":"y2"}}},
{"data":{"name":"coef"},"transform":[{"filter":"datum.sb!==0"}],"mark":{"type":"point","filled":true,"shape":"circle","opacity":1},"encoding":{"size":{"field":"b","type":"quantitative","scale":{"domain":[-3,-2,-1,-0.5,-0.1,-0.01,0,0.01,0.1,0.5,1,2,3],"range":[676,484,289,196,81,49,13,49,81,196,289,484,676]}},"color":{"field":"b","type":"quantitative","scale":{"type":"threshold","domain":[0],"range":["#1B86E8","#EF5B3E"]}}}},
{"data":{"name":"coef"},"transform":[{"filter":"datum.sb===0"}],"mark":{"type":"point","filled":false,"shape":"circle","opacity":1,"strokeWidth":1.5},"encoding":{"size":{"field":"b","type":"quantitative","scale":{"domain":[-3,-2,-1,-0.5,-0.1,-0.01,0,0.01,0.1,0.5,1,2,3],"range":[676,484,289,196,81,49,13,49,81,196,289,484,676]}},"color":{"field":"b","type":"quantitative","scale":{"type":"threshold","domain":[0],"range":["#1B86E8","#EF5B3E"]}}}},
{"data":{"values":[{"x":1753,"y":26.2,"t":"(Stand age → Richness)"}]},"mark":{"type":"text","align":"center","baseline":"middle","fontSize":16,"font":"Liberation Sans","color":"#000"},"encoding":{"text":{"field":"t"}}},
{"data":{"values":[{"x":1734,"y":27.42,"t":"β"}]},"mark":{"type":"text","align":"center","baseline":"middle","fontSize":20,"font":"Liberation Serif","fontStyle":"italic","color":"#000"},"encoding":{"text":{"field":"t"}}},
{"data":{"values":[{"x":1763,"y":27.05,"t":"10"}]},"mark":{"type":"text","align":"left","baseline":"middle","fontSize":14,"font":"Liberation Sans","color":"#000"},"encoding":{"text":{"field":"t"}}},
{"data":{"values":[{"x":13,"y":27.92,"t":"b"}]},"mark":{"type":"text","align":"center","baseline":"middle","fontSize":26,"fontWeight":"bold","font":"Liberation Sans","color":"#000"},"encoding":{"text":{"field":"t"}}}
]},
{"width":533,"height":533,
"encoding":{"x":{"field":"x","type":"quantitative","scale":{"domain":[0,3500],"nice":false,"zero":false},"axis":{"title":"Total annual precipitation (TAP, mm)","values":[0,500,1000,1500,2000,2500,3000,3500],"format":"d"}},"y":{"field":"y","type":"quantitative","scale":{"domain":[-5,25],"nice":false,"zero":false},"axis":{"title":"Mean annual temperature (MAT, °C)","values":[-5,0,5,10,15,20,25],"titlePadding":24}}},
"layer":[
{"data":{"name":"edge"},"mark":{"type":"circle","size":78,"opacity":0.5},"encoding":{"fill":{"field":"zone","type":"nominal","scale":{"domain":["Arid","Semi−arid","Dry sub−humid","Humid"],"range":["#FBAA5F","#FDD985","#D3EB85","#A6D96A"]}}}},
{"data":{"name":"zones"},"mark":{"type":"area","orient":"horizontal"},"encoding":{"x2":{"field":"x2"},"fill":{"field":"zone","type":"nominal"}}},
{"data":{"name":"hgrid"},"mark":{"type":"rule","color":"#a5a5a5","strokeDash":[2,2.5],"strokeWidth":1},"encoding":{"x2":{"field":"x2"}}},
{"data":{"name":"vgrid"},"mark":{"type":"rule","color":"#a5a5a5","strokeDash":[2,2.5],"strokeWidth":1},"encoding":{"y2":{"field":"y2"}}},
{"data":{"name":"coef"},"transform":[{"filter":"datum.sc!==0"}],"mark":{"type":"point","filled":true,"shape":"circle","opacity":1},"encoding":{"size":{"field":"c","type":"quantitative","scale":{"domain":[-3,-2,-1,-0.5,-0.1,-0.01,0,0.01,0.1,0.5,1,2,3],"range":[676,484,289,196,81,49,13,49,81,196,289,484,676]}},"color":{"field":"c","type":"quantitative","scale":{"type":"threshold","domain":[0],"range":["#1B86E8","#EF5B3E"]}}}},
{"data":{"name":"coef"},"transform":[{"filter":"datum.sc===0"}],"mark":{"type":"point","filled":false,"shape":"circle","opacity":1,"strokeWidth":1.5},"encoding":{"size":{"field":"c","type":"quantitative","scale":{"domain":[-3,-2,-1,-0.5,-0.1,-0.01,0,0.01,0.1,0.5,1,2,3],"range":[676,484,289,196,81,49,13,49,81,196,289,484,676]}},"color":{"field":"c","type":"quantitative","scale":{"type":"threshold","domain":[0],"range":["#1B86E8","#EF5B3E"]}}}},
{"data":{"values":[{"x":1753,"y":26.2,"t":"(Stem density → Productivity)"}]},"mark":{"type":"text","align":"center","baseline":"middle","fontSize":16,"font":"Liberation Sans","color":"#000"},"encoding":{"text":{"field":"t"}}},
{"data":{"values":[{"x":1707,"y":27.42,"t":"β"}]},"mark":{"type":"text","align":"center","baseline":"middle","fontSize":20,"font":"Liberation Serif","fontStyle":"italic","color":"#000"},"encoding":{"text":{"field":"t"}}},
{"data":{"values":[{"x":1747,"y":27.05,"t":"14"}]},"mark":{"type":"text","align":"left","baseline":"middle","fontSize":14,"font":"Liberation Sans","color":"#000"},"encoding":{"text":{"field":"t"}}},
{"data":{"values":[{"x":-624,"y":27.92,"t":"c"}]},"mark":{"type":"text","align":"center","baseline":"middle","fontSize":26,"fontWeight":"bold","font":"Liberation Sans","color":"#000"},"encoding":{"text":{"field":"t"}}}
]},
{"width":533,"height":533,
"encoding":{"x":{"field":"x","type":"quantitative","scale":{"domain":[0,3500],"nice":false,"zero":false},"axis":{"title":"Total annual precipitation (TAP, mm)","values":[0,500,1000,1500,2000,2500,3000,3500],"format":"d"}},"y":{"field":"y","type":"quantitative","scale":{"domain":[-5,25],"nice":false,"zero":false},"axis":null}},
"layer":[
{"data":{"name":"edge"},"mark":{"type":"circle","size":78,"opacity":0.5},"encoding":{"fill":{"field":"zone","type":"nominal","scale":{"domain":["Arid","Semi−arid","Dry sub−humid","Humid"],"range":["#FBAA5F","#FDD985","#D3EB85","#A6D96A"]}}}},
{"data":{"name":"zones"},"mark":{"type":"area","orient":"horizontal"},"encoding":{"x2":{"field":"x2"},"fill":{"field":"zone","type":"nominal"}}},
{"data":{"name":"hgrid"},"mark":{"type":"rule","color":"#a5a5a5","strokeDash":[2,2.5],"strokeWidth":1},"encoding":{"x2":{"field":"x2"}}},
{"data":{"name":"vgrid"},"mark":{"type":"rule","color":"#a5a5a5","strokeDash":[2,2.5],"strokeWidth":1},"encoding":{"y2":{"field":"y2"}}},
{"data":{"name":"coef"},"transform":[{"filter":"datum.sd!==0"}],"mark":{"type":"point","filled":true,"shape":"circle","opacity":1},"encoding":{"size":{"field":"d","type":"quantitative","scale":{"domain":[-3,-2,-1,-0.5,-0.1,-0.01,0,0.01,0.1,0.5,1,2,3],"range":[676,484,289,196,81,49,13,49,81,196,289,484,676]}},"color":{"field":"d","type":"quantitative","scale":{"type":"threshold","domain":[0],"range":["#1B86E8","#EF5B3E"]}}}},
{"data":{"name":"coef"},"transform":[{"filter":"datum.sd===0"}],"mark":{"type":"point","filled":false,"shape":"circle","opacity":1,"strokeWidth":1.5},"encoding":{"size":{"field":"d","type":"quantitative","scale":{"domain":[-3,-2,-1,-0.5,-0.1,-0.01,0,0.01,0.1,0.5,1,2,3],"range":[676,484,289,196,81,49,13,49,81,196,289,484,676]}},"color":{"field":"d","type":"quantitative","scale":{"type":"threshold","domain":[0],"range":["#1B86E8","#EF5B3E"]}}}},
{"data":{"values":[{"x":1734,"y":26.2,"t":"(Stand age  → Productivity)"}]},"mark":{"type":"text","align":"center","baseline":"middle","fontSize":16,"font":"Liberation Sans","color":"#000"},"encoding":{"text":{"field":"t"}}},
{"data":{"values":[{"x":1668,"y":27.42,"t":"β"}]},"mark":{"type":"text","align":"center","baseline":"middle","fontSize":20,"font":"Liberation Serif","fontStyle":"italic","color":"#000"},"encoding":{"text":{"field":"t"}}},
{"data":{"values":[{"x":1707,"y":27.05,"t":"15"}]},"mark":{"type":"text","align":"left","baseline":"middle","fontSize":14,"font":"Liberation Sans","color":"#000"},"encoding":{"text":{"field":"t"}}},
{"data":{"values":[{"x":13,"y":27.92,"t":"d"}]},"mark":{"type":"text","align":"center","baseline":"middle","fontSize":26,"fontWeight":"bold","font":"Liberation Sans","color":"#000"},"encoding":{"text":{"field":"t"}}}
]}
]}
